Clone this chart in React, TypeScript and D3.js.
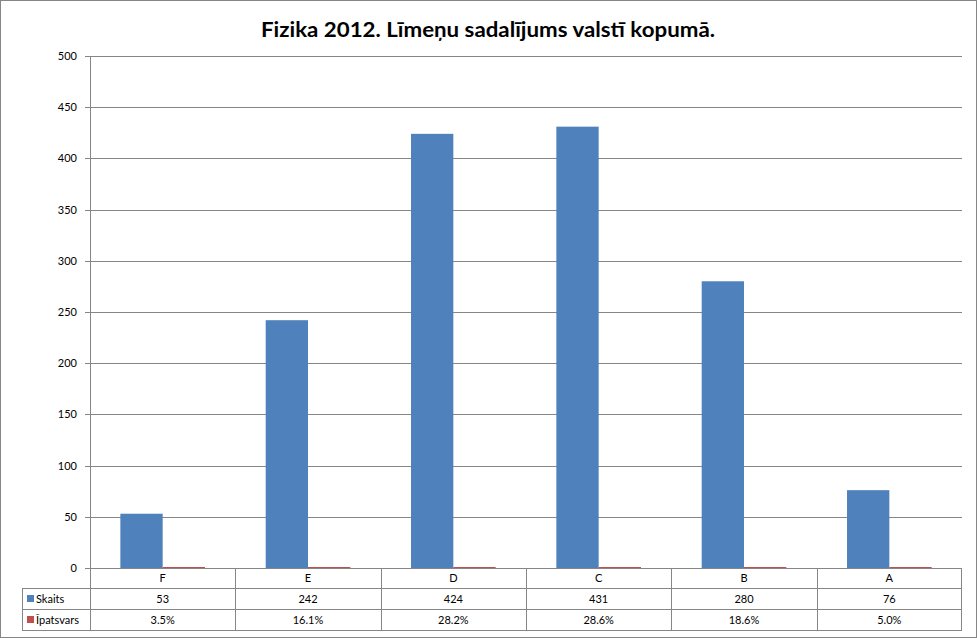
import React from "react";
import * as d3 from "d3";

const categories = ["F", "E", "D", "C", "B", "A"];
const skaits = [53, 242, 424, 431, 280, 76];
const ipatsvars = [0.035, 0.161, 0.282, 0.286, 0.186, 0.05];
const ipatsvarsLabels = ["3.5%", "16.1%", "28.2%", "28.6%", "18.6%", "5.0%"];
const yTicks = [0, 50, 100, 150, 200, 250, 300, 350, 400, 450, 500];
const seriesNames = ["Skaits", "Īpatsvars"];
const colors = ["#4F81BD", "#C0504D"];

const W = 977;
const H = 638;
const plotLeft = 90;
const plotRight = 962;
const plotTop = 56;
const plotBottom = 568;
const tableLeft = 22;
const rowH = [20, 21, 21];
const font = "Lato, 'Open Sans', sans-serif";
const grid = "#868686";

export default function App() {
  const x = d3.scaleBand<string>().domain(categories).range([plotLeft, plotRight]).paddingInner(0).paddingOuter(0);
  const y = d3.scaleLinear().domain([0, 500]).range([plotBottom, plotTop]);
  const bw = x.bandwidth();
  const barW = bw / 3.435;
  const groupW = barW * 2;
  const off = (bw - groupW) / 2;

  const r1 = plotBottom;
  const r2 = r1 + rowH[0];
  const r3 = r2 + rowH[1];
  const r4 = r3 + rowH[2];

  return (
    <svg width={W} height={H} style={{ position: "absolute", left: 0, top: 0 }} fontFamily={font}>
      <rect x={0} y={0} width={W} height={H} fill="#fff" />
      <rect x={0.5} y={0.5} width={W - 1} height={H - 1} fill="none" stroke="#868686" />
      <text x={488} y={37} textAnchor="middle" fontSize={20} fontWeight="bold" textLength={454} lengthAdjust="spacingAndGlyphs" fill="#000">
        Fizika 2012. Līmeņu sadalījums valstī kopumā.
      </text>
      {yTicks.map((t) => (
        <g key={t}>
          <line x1={plotLeft - 5} x2={plotRight} y1={Math.round(y(t)) + 0.5} y2={Math.round(y(t)) + 0.5} stroke={grid} />
          <text x={77} y={y(t) + 4} textAnchor="end" fontSize={11} fill="#000">{t}</text>
        </g>
      ))}
      <line x1={plotLeft + 0.5} x2={plotLeft + 0.5} y1={plotTop} y2={plotBottom} stroke={grid} />
      {categories.map((c, i) => {
        const x0 = (x(c) as number) + off;
        const h1 = plotBottom - y(skaits[i]);
        const h2 = Math.max(plotBottom - y(ipatsvars[i]), 1);
        return (
          <g key={c}>
            <rect x={x0} y={plotBottom - h1} width={barW} height={h1} fill={colors[0]} />
            <rect x={x0 + barW} y={plotBottom - h2} width={barW} height={h2} fill={colors[1]} />
          </g>
        );
      })}
      {/* data table */}
      <g stroke={grid} fill="none">
        <line x1={tableLeft} x2={plotRight} y1={r2 + 0.5} y2={r2 + 0.5} />
        <line x1={tableLeft} x2={plotRight} y1={r3 + 0.5} y2={r3 + 0.5} />
        <line x1={tableLeft} x2={plotRight} y1={r4 + 0.5} y2={r4 + 0.5} />
        <line x1={plotRight - 0.5} x2={plotRight - 0.5} y1={r1} y2={r4} />
        <line x1={tableLeft + 0.5} x2={tableLeft + 0.5} y1={r2} y2={r4} />
        <line x1={plotLeft + 0.5} x2={plotLeft + 0.5} y1={r1} y2={r4} />
        {categories.map((c) => (
          <line key={c} x1={Math.round(x(c) as number) + 0.5} x2={Math.round(x(c) as number) + 0.5} y1={r1} y2={r4} />
        ))}
      </g>
      {categories.map((c, i) => {
        const cx = (x(c) as number) + bw / 2;
        return (
          <g key={c} fontSize={11} fill="#000" textAnchor="middle">
            <text x={cx} y={r1 + 14}>{c}</text>
            <text x={cx} y={r2 + 15}>{skaits[i]}</text>
            <text x={cx} y={r3 + 15}>{ipatsvarsLabels[i]}</text>
          </g>
        );
      })}
      {seriesNames.map((s, i) => {
        const ry = i === 0 ? r2 : r3;
        return (
          <g key={s}>
            <rect x={tableLeft + 5} y={ry + 7} width={7} height={7} fill={colors[i]} />
            <text x={tableLeft + 14} y={ry + 15} fontSize={11} fill="#000">{s}</text>
          </g>
        );
      })}
    </svg>
  );
}
